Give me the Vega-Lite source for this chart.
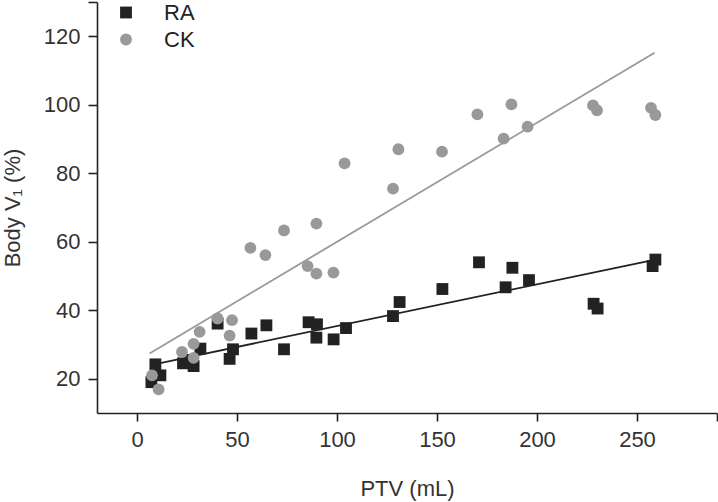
{
  "$schema": "https://vega.github.io/schema/vega-lite/v6.json",
  "width": 620,
  "height": 411,
  "autosize": {"type": "none"},
  "padding": {"left": 97, "top": 2, "right": 1, "bottom": 89},
  "background": "white",
  "config": {"view": {"stroke": null}, "font": "Liberation Sans"},
  "datasets": {
    "points": [
      {"group": "RA", "ptv": 7.2, "v1": 19.0},
      {"group": "RA", "ptv": 9.2, "v1": 24.2},
      {"group": "RA", "ptv": 11.7, "v1": 21.0},
      {"group": "RA", "ptv": 23.0, "v1": 24.5},
      {"group": "RA", "ptv": 27.0, "v1": 25.5},
      {"group": "RA", "ptv": 28.3, "v1": 23.7},
      {"group": "RA", "ptv": 31.7, "v1": 28.8},
      {"group": "RA", "ptv": 40.3, "v1": 36.1},
      {"group": "RA", "ptv": 46.3, "v1": 25.8},
      {"group": "RA", "ptv": 48.0, "v1": 28.6},
      {"group": "RA", "ptv": 57.2, "v1": 33.2},
      {"group": "RA", "ptv": 64.7, "v1": 35.6},
      {"group": "RA", "ptv": 73.5, "v1": 28.6},
      {"group": "RA", "ptv": 85.8, "v1": 36.5},
      {"group": "RA", "ptv": 90.0, "v1": 35.9},
      {"group": "RA", "ptv": 89.7, "v1": 32.0},
      {"group": "RA", "ptv": 98.3, "v1": 31.5},
      {"group": "RA", "ptv": 104.5, "v1": 34.8},
      {"group": "RA", "ptv": 128.0, "v1": 38.3},
      {"group": "RA", "ptv": 131.3, "v1": 42.4},
      {"group": "RA", "ptv": 152.7, "v1": 46.2},
      {"group": "RA", "ptv": 171.0, "v1": 54.0},
      {"group": "RA", "ptv": 184.3, "v1": 46.7},
      {"group": "RA", "ptv": 187.7, "v1": 52.4},
      {"group": "RA", "ptv": 196.0, "v1": 48.8},
      {"group": "RA", "ptv": 228.3, "v1": 41.9},
      {"group": "RA", "ptv": 230.3, "v1": 40.5},
      {"group": "RA", "ptv": 257.8, "v1": 52.9},
      {"group": "RA", "ptv": 259.2, "v1": 54.8},
      {"group": "CK", "ptv": 7.5, "v1": 21.0},
      {"group": "CK", "ptv": 10.8, "v1": 16.9},
      {"group": "CK", "ptv": 22.5, "v1": 27.8},
      {"group": "CK", "ptv": 28.3, "v1": 26.1},
      {"group": "CK", "ptv": 28.3, "v1": 30.2},
      {"group": "CK", "ptv": 31.3, "v1": 33.7},
      {"group": "CK", "ptv": 40.3, "v1": 37.6},
      {"group": "CK", "ptv": 46.3, "v1": 32.6},
      {"group": "CK", "ptv": 47.5, "v1": 37.1},
      {"group": "CK", "ptv": 56.7, "v1": 58.2},
      {"group": "CK", "ptv": 64.2, "v1": 56.1},
      {"group": "CK", "ptv": 73.5, "v1": 63.3},
      {"group": "CK", "ptv": 85.3, "v1": 52.9},
      {"group": "CK", "ptv": 89.7, "v1": 50.7},
      {"group": "CK", "ptv": 89.7, "v1": 65.3},
      {"group": "CK", "ptv": 98.2, "v1": 51.0},
      {"group": "CK", "ptv": 103.8, "v1": 82.9},
      {"group": "CK", "ptv": 128.0, "v1": 75.5},
      {"group": "CK", "ptv": 130.7, "v1": 87.0},
      {"group": "CK", "ptv": 152.5, "v1": 86.3},
      {"group": "CK", "ptv": 170.2, "v1": 97.2},
      {"group": "CK", "ptv": 183.3, "v1": 90.1},
      {"group": "CK", "ptv": 187.2, "v1": 100.1},
      {"group": "CK", "ptv": 195.3, "v1": 93.6},
      {"group": "CK", "ptv": 228.0, "v1": 99.8},
      {"group": "CK", "ptv": 230.0, "v1": 98.4},
      {"group": "CK", "ptv": 257.0, "v1": 99.1},
      {"group": "CK", "ptv": 259.2, "v1": 97.0}
    ],
    "fits": [
      {"group": "RA", "ptv": 9.2, "v1": 24.3},
      {"group": "RA", "ptv": 259.2, "v1": 54.8},
      {"group": "CK", "ptv": 6.3, "v1": 27.4},
      {"group": "CK", "ptv": 258.8, "v1": 115.2}
    ]
  },
  "encoding": {
    "x": {
      "field": "ptv",
      "type": "quantitative",
      "scale": {"domain": [-20, 290], "nice": false, "zero": false},
      "axis": {
        "title": "PTV (mL)",
        "values": [0, 50, 100, 150, 200, 250, 290],
        "labelExpr": "datum.value == 290 ? '' : datum.label",
        "grid": false,
        "domainColor": "#222222",
        "domainWidth": 1.6,
        "tickColor": "#222222",
        "tickWidth": 1.6,
        "tickSize": 8,
        "labelFontSize": 22,
        "labelColor": "#333333",
        "labelFont": "Liberation Sans",
        "labelPadding": 8,
        "labelFlush": false,
        "titleFontSize": 22,
        "titleFontWeight": "normal",
        "titleColor": "#333333",
        "titleFont": "Liberation Sans",
        "titleBaseline": "alphabetic",
        "titleY": 82
      }
    },
    "y": {
      "field": "v1",
      "type": "quantitative",
      "scale": {"domain": [10, 130], "nice": false, "zero": false},
      "axis": {
        "title": "Body V₁ (%)",
        "values": [20, 40, 60, 80, 100, 120, 130],
        "labelExpr": "datum.value == 130 ? '' : datum.label",
        "grid": false,
        "domainColor": "#222222",
        "domainWidth": 1.6,
        "tickColor": "#222222",
        "tickWidth": 1.6,
        "tickSize": 9,
        "labelFontSize": 22,
        "labelColor": "#333333",
        "labelFont": "Liberation Sans",
        "labelPadding": 8,
        "labelFlush": false,
        "titleFontSize": 22,
        "titleFontWeight": "normal",
        "titleColor": "#333333",
        "titleFont": "Liberation Sans",
        "titleBaseline": "alphabetic",
        "titleX": -78
      }
    }
  },
  "layer": [
    {
      "data": {"name": "fits"},
      "transform": [{"filter": "datum.group == 'RA'"}],
      "mark": {"type": "line", "color": "#222222", "strokeWidth": 1.8}
    },
    {
      "data": {"name": "fits"},
      "transform": [{"filter": "datum.group == 'CK'"}],
      "mark": {"type": "line", "color": "#999999", "strokeWidth": 1.8}
    },
    {
      "data": {"name": "points"},
      "mark": {"type": "point", "filled": true, "opacity": 1, "size": 140, "strokeWidth": 0},
      "encoding": {
        "color": {
          "field": "group",
          "type": "nominal",
          "sort": null,
          "scale": {"domain": ["RA", "CK"], "range": ["#222222", "#999999"]},
          "legend": {
            "title": null,
            "orient": "none",
            "legendX": 18,
            "legendY": -0.5,
            "padding": 0,
            "labelFontSize": 22,
            "labelFont": "Liberation Sans",
            "labelColor": "#222222",
            "symbolSize": 140,
            "rowPadding": 5,
            "labelOffset": 27
          }
        },
        "shape": {
          "field": "group",
          "type": "nominal",
          "sort": null,
          "scale": {"domain": ["RA", "CK"], "range": ["square", "circle"]},
          "legend": {
            "title": null,
            "orient": "none",
            "legendX": 18,
            "legendY": -0.5,
            "padding": 0,
            "labelFontSize": 22,
            "labelFont": "Liberation Sans",
            "labelColor": "#222222",
            "symbolSize": 140,
            "rowPadding": 5,
            "labelOffset": 27
          }
        }
      }
    }
  ]
}
